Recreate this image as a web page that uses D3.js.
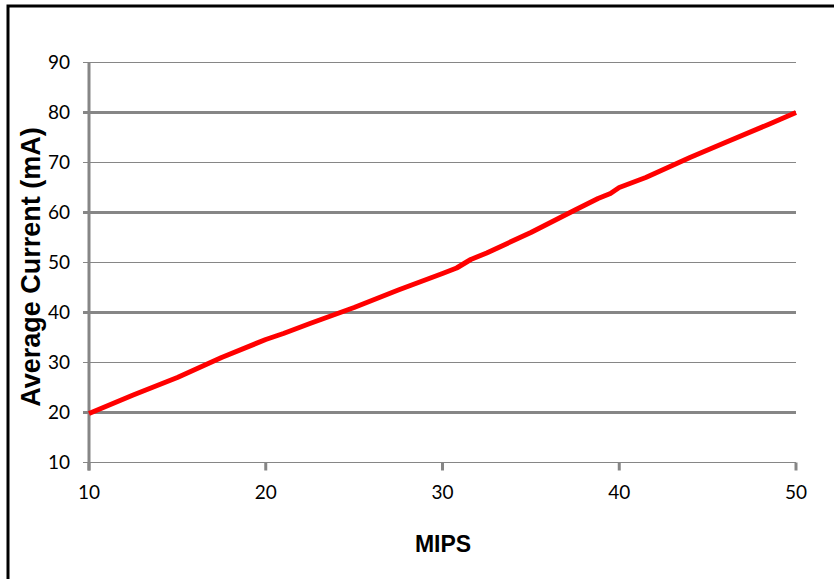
<!DOCTYPE html>
<html>
<head>
<meta charset="utf-8">
<script src="https://cdn.jsdelivr.net/npm/d3@7"></script>
<style>
html,body{margin:0;padding:0;background:#fff;}
svg{display:block;}
</style>
</head>
<body>
<svg id="chart" width="834" height="579"></svg>
<script>
// Data
const mips    = [10, 12.5, 15, 17.5, 20, 21, 22.5, 25, 27.5, 30, 30.8, 31.6, 32.5, 35, 37.5, 38.8, 39.5, 40, 41.5, 44, 46, 48.5, 50];
const current = [19.8, 23.5, 27.0, 31.0, 34.6, 35.8, 37.8, 41.0, 44.5, 47.8, 48.9, 50.6, 51.9, 56.0, 60.5, 62.8, 63.8, 65.0, 67.0, 71.0, 74.0, 77.7, 80.0];
const xTicks = [10, 20, 30, 40, 50];
const yTicks = [10, 20, 30, 40, 50, 60, 70, 80, 90];
const majorGrid = [20, 40, 60, 80];
const xTitle = "MIPS";
const yTitle = "Average Current (mA)";

const svg = d3.select("#chart");
const L = 89, R = 796, T = 62.5, B = 462.5;
const x = d3.scaleLinear().domain([10, 50]).range([L, R]);
const y = d3.scaleLinear().domain([10, 90]).range([B, T]);
const grey = "#868686";

// outer border (top and left visible)
svg.append("rect").attr("x", 8).attr("y", 6).attr("width", 900).attr("height", 700)
  .attr("fill", "none").attr("stroke", "#000").attr("stroke-width", 3);

// gridlines
svg.append("g").selectAll("line").data(yTicks).join("line")
  .attr("x1", L - 6).attr("x2", R)
  .attr("y1", d => y(d)).attr("y2", d => y(d))
  .attr("stroke", grey)
  .attr("stroke-width", d => majorGrid.includes(d) ? 3 : 1.2);

// x ticks
svg.append("g").selectAll("line").data(xTicks).join("line")
  .attr("x1", d => x(d)).attr("x2", d => x(d))
  .attr("y1", B).attr("y2", B + 8)
  .attr("stroke", grey).attr("stroke-width", 3);

// y axis
svg.append("line").attr("x1", L).attr("x2", L).attr("y1", T).attr("y2", B + 8)
  .attr("stroke", grey).attr("stroke-width", 3);

// tick labels
svg.append("g").selectAll("text").data(yTicks).join("text")
  .attr("x", 70).attr("y", d => y(d)).attr("dy", "0.35em")
  .attr("text-anchor", "end")
  .attr("font-family", "Lato, 'Open Sans', sans-serif").attr("font-size", 19)
  .attr("fill", "#000").text(d => d);

svg.append("g").selectAll("text").data(xTicks).join("text")
  .attr("x", d => x(d)).attr("y", 499)
  .attr("text-anchor", "middle")
  .attr("font-family", "Lato, 'Open Sans', sans-serif").attr("font-size", 19)
  .attr("fill", "#000").text(d => d);

// line
const line = d3.line().x((d, i) => x(mips[i])).y((d, i) => y(current[i]));
svg.append("path").datum(current).attr("d", line)
  .attr("fill", "none").attr("stroke", "#ff0000").attr("stroke-width", 5)
  .attr("stroke-linejoin", "round");

// titles
svg.append("text").attr("x", 443).attr("y", 552)
  .attr("text-anchor", "middle")
  .attr("font-family", "'Liberation Sans', Arial, sans-serif").attr("font-weight", "bold")
  .attr("font-size", 23).text(xTitle);

svg.append("text").attr("transform", "translate(40," + 267 + ") rotate(-90)")
  .attr("text-anchor", "middle")
  .attr("font-family", "'Liberation Sans', Arial, sans-serif").attr("font-weight", "bold")
  .attr("font-size", 27).text(yTitle);
</script>
</body>
</html>
